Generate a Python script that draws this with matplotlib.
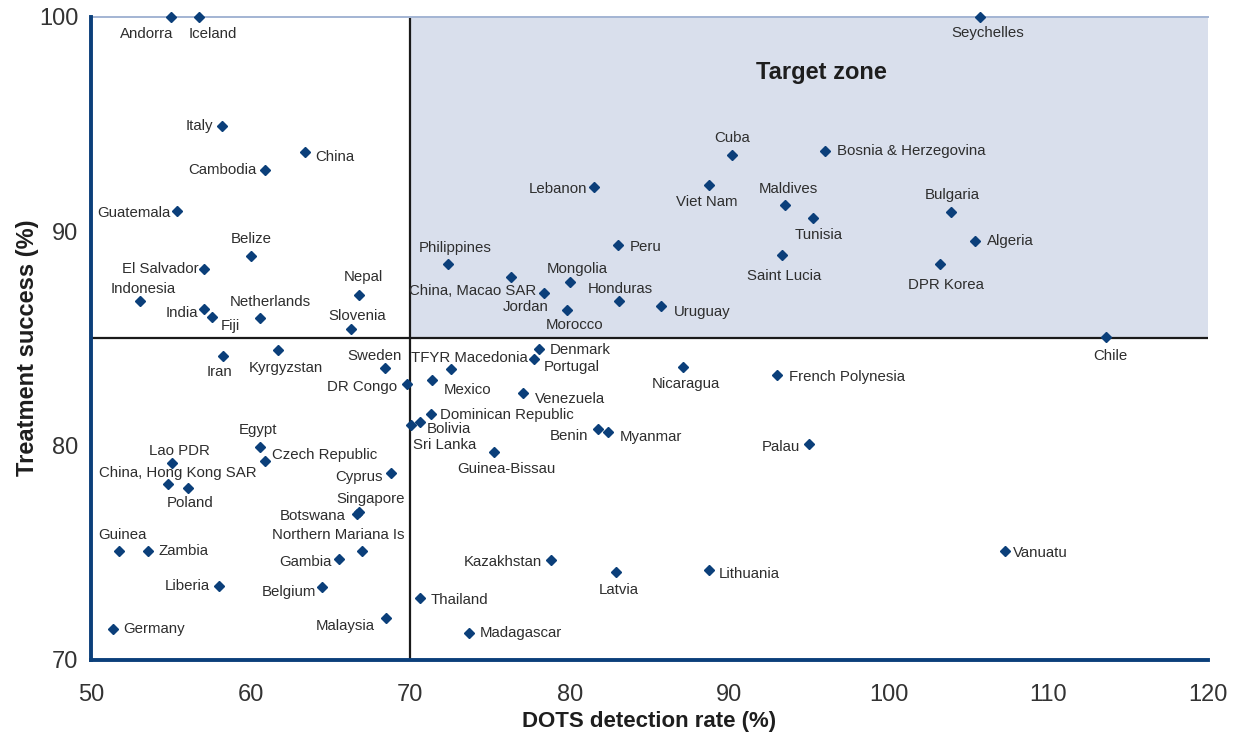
import matplotlib
matplotlib.use("Agg")
import matplotlib.pyplot as plt

plt.rcParams['font.family'] = ['Liberation Sans', 'DejaVu Sans']

# DOTS detection rate (%) vs treatment success (%) per country
countries = [
    "Andorra", "Iceland", "Italy", "China", "Cambodia", "Guatemala", "Belize",
    "El Salvador", "Indonesia", "India", "Fiji", "Netherlands", "Nepal", "Slovenia",
    "Seychelles", "Cuba", "Lebanon", "Viet Nam", "Bosnia & Herzegovina", "Maldives",
    "Tunisia", "Bulgaria", "Algeria", "Saint Lucia", "DPR Korea", "Peru",
    "Philippines", "China, Macao SAR", "Mongolia", "Jordan", "Honduras", "Uruguay",
    "Morocco", "Chile", "Iran", "Kyrgyzstan", "Sweden", "DR Congo", "Egypt",
    "Czech Republic", "Lao PDR", "China, Hong Kong SAR", "Poland", "Cyprus",
    "Singapore", "Botswana", "Guinea", "Zambia", "Northern Mariana Is", "Gambia",
    "Liberia", "Belgium", "Malaysia", "Germany", "Sri Lanka", "Bolivia",
    "Dominican Republic", "TFYR Macedonia", "Mexico", "Denmark", "Portugal",
    "Venezuela", "Nicaragua", "French Polynesia", "Benin", "Myanmar", "Palau",
    "Guinea-Bissau", "Kazakhstan", "Latvia", "Lithuania", "Thailand", "Madagascar",
    "Vanuatu",
]
detection = [
    55.0, 56.75, 58.2, 63.4, 60.9, 55.4, 60.0,
    57.1, 53.1, 57.1, 57.6, 60.6, 66.8, 66.3,
    105.7, 90.2, 81.5, 88.75, 96.0, 93.5,
    95.25, 103.9, 105.4, 93.3, 103.2, 83.0,
    72.4, 76.3, 80.0, 78.4, 83.1, 85.7,
    79.8, 113.6, 58.3, 61.7, 68.4, 69.8, 60.6,
    60.9, 55.1, 54.8, 56.1, 68.8,
    66.8, 66.7, 51.75, 53.6, 67.0, 65.55,
    58.05, 64.5, 68.5, 51.4, 70.05, 70.6,
    71.3, 72.55, 71.4, 78.05, 77.75,
    77.1, 87.1, 93.0, 81.8, 82.4, 95.0,
    75.25, 78.8, 82.9, 88.75, 70.6, 73.7,
    107.25,
]
success = [
    100.0, 100.0, 94.9, 93.7, 92.85, 90.95, 88.85,
    88.25, 86.75, 86.35, 86.0, 85.95, 87.0, 85.45,
    100.0, 93.55, 92.05, 92.15, 93.75, 91.2,
    90.6, 90.9, 89.55, 88.9, 88.45, 89.35,
    88.45, 87.85, 87.6, 87.1, 86.75, 86.5,
    86.3, 85.05, 84.15, 84.45, 83.6, 82.85, 79.95,
    79.3, 79.2, 78.2, 78.0, 78.7,
    76.9, 76.8, 75.1, 75.1, 75.1, 74.7,
    73.45, 73.4, 71.95, 71.45, 80.95, 81.1,
    81.45, 83.55, 83.05, 84.5, 84.05,
    82.45, 83.65, 83.3, 80.75, 80.65, 80.05,
    79.7, 74.65, 74.1, 74.2, 72.9, 71.25,
    75.1,
]

target_x = 70
target_y = 85

# label placement: (dx px, dy px, horizontal alignment)
label_pos = {
    "Andorra": (-24, -17, "center"), "Iceland": (14, -17, "center"),
    "Italy": (-9, 0, "right"), "China": (10, -5, "left"),
    "Cambodia": (-8, 0, "right"), "Guatemala": (-7, -2, "right"),
    "Belize": (1, 17, "center"), "El Salvador": (-6, 0, "right"),
    "Indonesia": (3, 12, "center"), "India": (-6, -4, "right"),
    "Fiji": (8, -9, "left"), "Netherlands": (10, 16, "center"),
    "Nepal": (4, 18, "center"), "Slovenia": (6, 13, "center"),
    "Seychelles": (8, -17, "center"), "Cuba": (0, 17, "center"),
    "Lebanon": (-6, -2, "right"), "Viet Nam": (-3, -17, "center"),
    "Bosnia & Herzegovina": (12, 0, "left"), "Maldives": (3, 16, "center"),
    "Tunisia": (6, -17, "center"), "Bulgaria": (1, 17, "center"),
    "Algeria": (12, 0, "left"), "Saint Lucia": (2, -21, "center"),
    "DPR Korea": (6, -21, "center"), "Peru": (12, -2, "left"),
    "Philippines": (7, 16, "center"), "China, Macao SAR": (26, -14, "right"),
    "Mongolia": (8, 13, "center"), "Jordan": (4, -14, "right"),
    "Honduras": (1, 12, "center"), "Uruguay": (13, -6, "left"),
    "Morocco": (8, -15, "center"), "Chile": (5, -19, "center"),
    "Iran": (-4, -16, "center"), "Kyrgyzstan": (8, -18, "center"),
    "Sweden": (-10, 12, "center"), "DR Congo": (-10, -3, "right"),
    "Egypt": (-2, 17, "center"), "Czech Republic": (7, 6, "left"),
    "Lao PDR": (7, 12, "center"), "China, Hong Kong SAR": (10, 11, "center"),
    "Poland": (2, -15, "center"), "Cyprus": (-8, -4, "right"),
    "Singapore": (12, 13, "center"), "Botswana": (-12, -2, "right"),
    "Guinea": (4, 16, "center"), "Zambia": (10, 0, "left"),
    "Northern Mariana Is": (-24, 16, "center"), "Gambia": (-8, -3, "right"),
    "Liberia": (-10, 0, "right"), "Belgium": (-6, -5, "right"),
    "Malaysia": (-11, -8, "right"), "Germany": (10, 0, "left"),
    "Sri Lanka": (2, -20, "left"), "Bolivia": (7, -7, "left"),
    "Dominican Republic": (9, -1, "left"), "TFYR Macedonia": (19, 11, "center"),
    "Mexico": (11, -10, "left"), "Denmark": (11, -1, "left"),
    "Portugal": (10, -8, "left"), "Venezuela": (11, -6, "left"),
    "Nicaragua": (3, -17, "center"), "French Polynesia": (12, -2, "left"),
    "Benin": (-10, -7, "right"), "Myanmar": (12, -5, "left"),
    "Palau": (-9, -3, "right"), "Guinea-Bissau": (12, -17, "center"),
    "Kazakhstan": (-9, -2, "right"), "Latvia": (3, -18, "center"),
    "Lithuania": (9, -4, "left"), "Thailand": (11, -2, "left"),
    "Madagascar": (11, 0, "left"), "Vanuatu": (8, -2, "left"),
}

navy = "#0b3f7a"
txt = "#2e2e2e"

fig = plt.figure(figsize=(12.39, 7.40), dpi=100)
ax = fig.add_axes([91 / 1239, 1 - 660 / 740, 1117 / 1239, 643.5 / 740])
ax.set_xlim(50, 120)
ax.set_ylim(70, 100)

# target zone shading + dividing lines
ax.fill_between([target_x, 120], target_y, 100, color="#d9dfec", zorder=0, lw=0)
ax.axvline(target_x, color="#1a1a1a", lw=1.6, zorder=1)
ax.axhline(target_y, color="#1a1a1a", lw=1.6, zorder=1)

ax.plot(detection, success, ls="none", marker="D", ms=5.2, color=navy,
        clip_on=False, zorder=5)

for name, x, y in zip(countries, detection, success):
    dx, dy, ha = label_pos[name]
    ax.annotate(name, (x, y), xytext=(dx, dy), textcoords="offset pixels",
                ha=ha, va="center", fontsize=10.8, color=txt, zorder=6)

ax.text(95.75, 97.4, "Target zone", ha="center", va="center", fontsize=17,
        fontweight="bold", color="#1e1e1e",
        family=["Liberation Sans Narrow", "Liberation Sans", "DejaVu Sans"])

for s in ["right"]:
    ax.spines[s].set_visible(False)
ax.spines["top"].set_color("#a3b4d3")
ax.spines["top"].set_linewidth(1.4)
for s in ["left", "bottom"]:
    ax.spines[s].set_color(navy)
    ax.spines[s].set_linewidth(2.8)
    ax.spines[s].set_zorder(7)

ax.set_xticks(range(50, 121, 10))
ax.set_yticks([70, 80, 90, 100])
ax.tick_params(axis="both", length=0, labelsize=17, labelcolor="#333333")
ax.tick_params(axis="x", pad=17)
ax.tick_params(axis="y", pad=9)

ax.set_xlabel("DOTS detection rate (%)", fontsize=16, fontweight="bold",
              color="#1e1e1e",
              family=["Liberation Sans Narrow", "Liberation Sans", "DejaVu Sans"])
ax.xaxis.set_label_coords(0.5, -(722 - 660) / 643.5)
ax.xaxis.label.set_va("center")
ax.set_ylabel("Treatment success (%)", fontsize=17, fontweight="bold",
              color="#1e1e1e",
              family=["Liberation Sans Narrow", "Liberation Sans", "DejaVu Sans"])
ax.yaxis.set_label_coords(-(91 - 28) / 1117, (660 - 348) / 643.5)
ax.yaxis.label.set_va("center")

fig.savefig("out.png", dpi=100)
